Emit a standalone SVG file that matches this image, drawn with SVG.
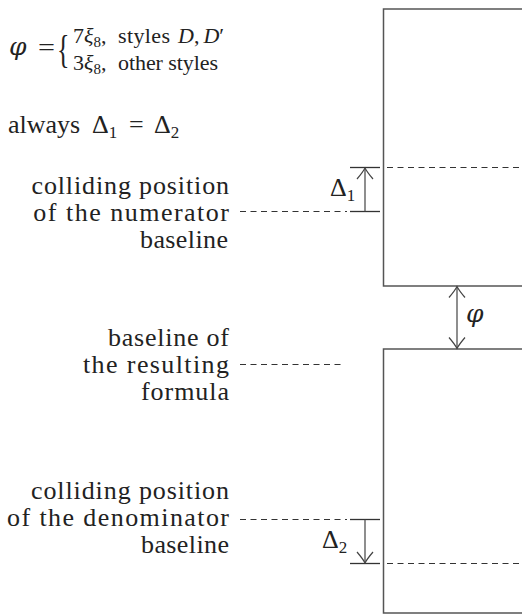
<svg xmlns="http://www.w3.org/2000/svg" width="522" height="614" viewBox="0 0 522 614">
<style>
text{font-family:"Liberation Serif","Times New Roman",serif;fill:#222;font-size:26px}
.it{font-style:italic}
.phi{font-family:"DejaVu Serif",serif;font-style:italic;font-size:25px}
.sub{font-size:17px}
.sm{font-size:22px}
.smsub{font-size:15px}
.box{fill:none;stroke:#555;stroke-width:1.5}
.dash{fill:none;stroke:#333;stroke-width:1.1;stroke-dasharray:6 4.5}
.tick{fill:none;stroke:#333;stroke-width:1.3}
.arr{fill:none;stroke:#444;stroke-width:1.2}
</style>
<defs>
<marker id="head" markerUnits="userSpaceOnUse" markerWidth="20" markerHeight="20" refX="0" refY="0" viewBox="-12 -10 14 20" orient="auto-start-reverse">
<path d="M-11,-8 Q-4,-2 0,0 Q-4,2 -11,8" fill="none" stroke="#444" stroke-width="1.2"/>
</marker>
</defs>
<rect width="522" height="614" fill="#fff"/>

<g id="formula-phi">
<text x="9" y="55" class="phi">φ</text>
<text x="38" y="56" font-size="26" textLength="17" lengthAdjust="spacingAndGlyphs">=</text>
<text x="0" y="0" font-size="40" transform="translate(57,63) scale(1,1.5)">{</text>
<text x="73" y="43" class="sm">7<tspan class="it">ξ</tspan><tspan class="smsub" dy="4">8</tspan><tspan dy="-4">,</tspan></text>
<text x="118" y="43" class="sm" textLength="52" lengthAdjust="spacing">styles</text>
<text x="178" y="43" class="sm"><tspan class="it">D</tspan>,<tspan class="it" dx="4">D</tspan>′</text>
<text x="73" y="70" class="sm">3<tspan class="it">ξ</tspan><tspan class="smsub" dy="4">8</tspan><tspan dy="-4">,</tspan></text>
<text x="118" y="70" class="sm" textLength="100" lengthAdjust="spacing">other styles</text>
</g>

<g id="note-always">
<text x="8" y="133" font-size="27">always</text>
<text x="92" y="133">Δ<tspan class="sub" dy="5">1</tspan></text>
<text x="129" y="133">=</text>
<text x="154" y="133">Δ<tspan class="sub" dy="5">2</tspan></text>
</g>

<g id="numerator-box">
<path class="box" d="M522,9 H383.5 V286 H522"/>
</g>

<g id="denominator-box">
<path class="box" d="M522,349 H383.5 V613 H522"/>
</g>

<g id="label-numerator">
<text x="31.5" y="193.5" textLength="197.5" lengthAdjust="spacing">colliding position</text>
<text x="33.3" y="220.5" textLength="195.7" lengthAdjust="spacing">of the numerator</text>
<text x="140" y="247.5" textLength="88" lengthAdjust="spacing">baseline</text>
</g>

<g id="label-result">
<text x="108" y="346" textLength="121" lengthAdjust="spacing">baseline of</text>
<text x="83" y="373" textLength="146" lengthAdjust="spacing">the resulting</text>
<text x="141" y="400" textLength="88" lengthAdjust="spacing">formula</text>
</g>

<g id="label-denominator">
<text x="31" y="499" textLength="198" lengthAdjust="spacing">colliding position</text>
<text x="7" y="526" textLength="222" lengthAdjust="spacing">of the denominator</text>
<text x="141" y="553" textLength="88" lengthAdjust="spacing">baseline</text>
</g>

<g id="connectors">
<line class="dash" x1="240" y1="211.5" x2="347" y2="211.5"/>
<line class="dash" x1="387" y1="167.5" x2="522" y2="167.5"/>
<line class="tick" x1="350" y1="167.5" x2="380" y2="167.5"/>
<line class="tick" x1="350" y1="211.5" x2="380" y2="211.5"/>
<line class="arr" x1="365" y1="211.5" x2="365" y2="168" marker-end="url(#head)"/>

<line class="dash" x1="240" y1="364.5" x2="345" y2="364.5"/>
<line class="arr" x1="457" y1="286.5" x2="457" y2="348.5" marker-start="url(#head)" marker-end="url(#head)"/>

<line class="dash" x1="240" y1="519.5" x2="347" y2="519.5"/>
<line class="dash" x1="387" y1="563.5" x2="522" y2="563.5"/>
<line class="tick" x1="350" y1="519.5" x2="380" y2="519.5"/>
<line class="tick" x1="350" y1="563.5" x2="380" y2="563.5"/>
<line class="arr" x1="365" y1="519.5" x2="365" y2="563" marker-end="url(#head)"/>
</g>

<g id="connector-labels">
<text x="330" y="196">Δ<tspan class="sub" dy="5">1</tspan></text>
<text x="466" y="322" class="phi">φ</text>
<text x="322" y="548">Δ<tspan class="sub" dy="5">2</tspan></text>
</g>
</svg>
